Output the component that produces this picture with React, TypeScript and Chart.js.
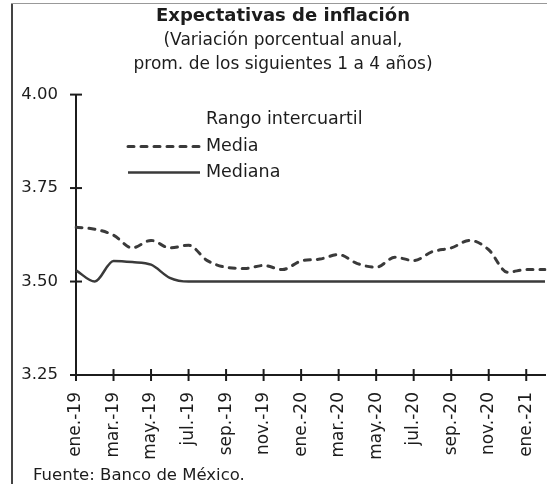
import React, { useEffect, useRef } from 'react';
import { Chart, registerables } from 'chart.js';

Chart.register(...registerables);

const FONT = '"DejaVu Sans", "Open Sans", sans-serif';

const categories = [
  'ene.-19', 'feb.-19', 'mar.-19', 'abr.-19', 'may.-19', 'jun.-19',
  'jul.-19', 'ago.-19', 'sep.-19', 'oct.-19', 'nov.-19', 'dic.-19',
  'ene.-20', 'feb.-20', 'mar.-20', 'abr.-20', 'may.-20', 'jun.-20',
  'jul.-20', 'ago.-20', 'sep.-20', 'oct.-20', 'nov.-20', 'dic.-20',
  'ene.-21', 'feb.-21',
];

const mediaValues = [
  3.645, 3.64, 3.624, 3.59, 3.61, 3.59,
  3.597, 3.556, 3.538, 3.535, 3.543, 3.532,
  3.555, 3.56, 3.572, 3.548, 3.538, 3.565,
  3.556, 3.58, 3.59, 3.61, 3.585, 3.525,
  3.532, 3.532,
];

const medianaValues = [
  3.53, 3.50, 3.555, 3.552, 3.545, 3.51,
  3.50, 3.50, 3.50, 3.50, 3.50, 3.50,
  3.50, 3.50, 3.50, 3.50, 3.50, 3.50,
  3.50, 3.50, 3.50, 3.50, 3.50, 3.50,
  3.50, 3.50,
];

const yMin = 3.25;
const yMax = 4.0;
const yStep = 0.25;

const titleText = 'Expectativas de inflación';
const subtitleLines = ['(Variación porcentual anual,', 'prom. de los siguientes 1 a 4 años)'];
const legendHeader = 'Rango intercuartil';
const sourceText = 'Fuente: Banco de México.';

const INK = '#1c1c1c';
const LINE = '#3a3a3a';

const crossTicks = {
  id: 'crossTicks',
  afterDraw(chart: any) {
    const { ctx, chartArea } = chart;
    const xs = chart.scales.x;
    const ys = chart.scales.y;
    ctx.save();
    ctx.strokeStyle = INK;
    ctx.lineWidth = 2;
    ys.ticks.forEach((_t: any, i: number) => {
      const py = ys.getPixelForTick(i);
      ctx.beginPath();
      ctx.moveTo(chartArea.left - 6, py);
      ctx.lineTo(chartArea.left + 6, py);
      ctx.stroke();
    });
    xs.ticks.forEach((_t: any, i: number) => {
      if (i % 2 !== 0) return;
      const px = xs.getPixelForTick(i);
      ctx.beginPath();
      ctx.moveTo(px, chartArea.bottom - 6);
      ctx.lineTo(px, chartArea.bottom + 6);
      ctx.stroke();
    });
    ctx.restore();
  },
};

const innerLegend = {
  id: 'innerLegend',
  afterDraw(chart: any) {
    const { ctx, chartArea } = chart;
    const x0 = chartArea.left + 52;
    const x1 = chartArea.left + 124;
    const tx = chartArea.left + 130;
    const rows = [chartArea.top + 25, chartArea.top + 52, chartArea.top + 78];
    ctx.save();
    ctx.font = `17.5px ${FONT}`;
    ctx.fillStyle = INK;
    ctx.textBaseline = 'middle';
    ctx.textAlign = 'left';
    ctx.fillText(legendHeader, tx, rows[0]);
    chart.data.datasets.forEach((ds: any, i: number) => {
      const y = rows[i + 1];
      ctx.strokeStyle = ds.borderColor;
      ctx.lineWidth = ds.borderWidth;
      ctx.lineCap = ds.borderCapStyle || 'butt';
      ctx.setLineDash(ds.borderDash || []);
      ctx.beginPath();
      ctx.moveTo(x0, y);
      ctx.lineTo(x1, y);
      ctx.stroke();
      ctx.setLineDash([]);
      ctx.fillText(ds.label, tx, y);
    });
    ctx.restore();
  },
};

export default function App() {
  const canvasRef = useRef<HTMLCanvasElement | null>(null);

  useEffect(() => {
    const canvas = canvasRef.current;
    if (!canvas) return;
    const chart = new Chart(canvas, {
      type: 'line',
      data: {
        labels: categories,
        datasets: [
          {
            label: 'Media',
            data: mediaValues,
            borderColor: LINE,
            borderWidth: 3,
            borderDash: [6, 7],
            borderCapStyle: 'round',
            pointRadius: 0,
            cubicInterpolationMode: 'monotone',
            fill: false,
          },
          {
            label: 'Mediana',
            data: medianaValues,
            borderColor: LINE,
            borderWidth: 2.5,
            pointRadius: 0,
            cubicInterpolationMode: 'monotone',
            fill: false,
          },
        ],
      },
      options: {
        animation: false,
        responsive: false,
        maintainAspectRatio: false,
        layout: { padding: { left: 21, right: 2, top: 0, bottom: 0 } },
        plugins: {
          legend: { display: false },
          tooltip: { enabled: false },
          title: {
            display: true,
            text: titleText,
            color: INK,
            font: { family: FONT, size: 18, weight: 'bold', lineHeight: 1.2 },
            padding: { top: 6, bottom: 1 },
          },
          subtitle: {
            display: true,
            text: subtitleLines,
            color: INK,
            font: { family: FONT, size: 17, lineHeight: 24 / 17 },
            padding: { top: 0, bottom: 18 },
          },
        },
        scales: {
          x: {
            type: 'category',
            offset: false,
            grid: { display: false, drawTicks: false },
            border: { display: true, color: INK, width: 2 },
            ticks: {
              autoSkip: false,
              maxRotation: 90,
              minRotation: 90,
              padding: 17,
              color: INK,
              font: { family: FONT, size: 17 },
              callback: (_v: any, i: number) => (i % 2 === 0 ? categories[i] : ''),
            },
            afterFit: (scale: any) => {
              scale.paddingRight = 0;
              scale.paddingLeft = 0;
              scale.height = 109;
            },
          },
          y: {
            min: yMin,
            max: yMax,
            grid: { display: false, drawTicks: false },
            border: { display: true, color: INK, width: 2 },
            ticks: {
              stepSize: yStep,
              padding: 18,
              color: INK,
              font: { family: FONT, size: 16.5 },
              callback: (v: any) => Number(v).toFixed(2),
            },
            afterFit: (scale: any) => {
              scale.width = 55;
            },
          },
        },
      } as any,
      plugins: [crossTicks, innerLegend],
    });
    return () => chart.destroy();
  }, []);

  return (
    <div style={{ position: 'absolute', left: 0, top: 0, width: 547, height: 484, background: '#fff', overflow: 'hidden' }}>
      <canvas ref={canvasRef} width={547} height={484} style={{ position: 'absolute', left: 0, top: 0, width: 547, height: 484 }} />
      <div style={{ position: 'absolute', left: 11, top: 3, width: 2, height: 481, background: '#444' }} />
      <div style={{ position: 'absolute', left: 11, top: 3, width: 536, height: 1, background: '#999' }} />
      <div
        style={{
          position: 'absolute',
          left: 33,
          top: 465,
          fontFamily: FONT,
          fontSize: 16.5,
          lineHeight: '20px',
          color: INK,
          whiteSpace: 'nowrap',
        }}
      >
        {sourceText}
      </div>
    </div>
  );
}
